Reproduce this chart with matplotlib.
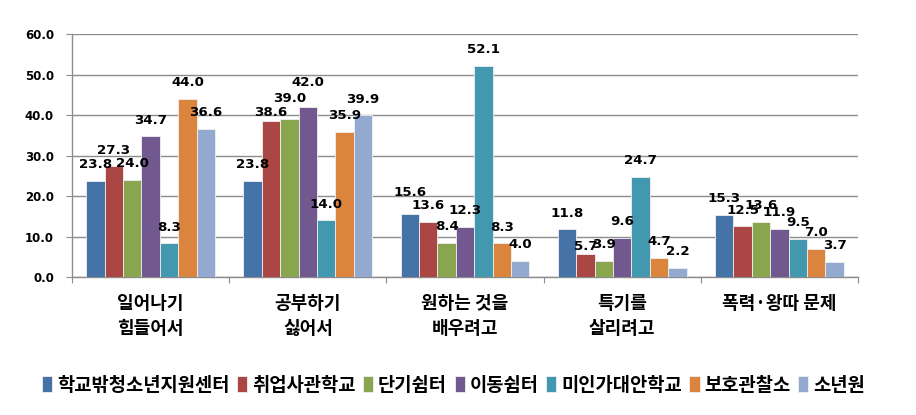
import numpy as np
import matplotlib.pyplot as plt

plt.rcParams['font.family'] = ['Noto Sans CJK KR', 'DejaVu Sans']

categories = ['일어나기\n힘들어서', '공부하기\n싫어서', '원하는 것을\n배우려고', '특기를\n살리려고', '폭력·왕따 문제']
series_names = ['학교밖청소년지원센터', '취업사관학교', '단기쉼터', '이동쉼터', '미인가대안학교', '보호관찰소', '소년원']

center = [23.8, 23.8, 15.6, 11.8, 15.3]
job_school = [27.3, 38.6, 13.6, 5.7, 12.5]
short_shelter = [24.0, 39.0, 8.4, 3.9, 13.6]
mobile_shelter = [34.7, 42.0, 12.3, 9.6, 11.9]
alt_school = [8.3, 14.0, 52.1, 24.7, 9.5]
probation = [44.0, 35.9, 8.3, 4.7, 7.0]
juvenile = [36.6, 39.9, 4.0, 2.2, 3.7]

series = [center, job_school, short_shelter, mobile_shelter, alt_school, probation, juvenile]
colors = ['#4572A7', '#AA4643', '#89A54E', '#71588F', '#4198AF', '#DB843D', '#93A9CF']

# 라벨 간격(pt) - 엑셀에서 겹치지 않게 옮겨진 라벨만 따로
label_gap = {(1, 1): 1.5, (2, 1): 10, (3, 1): 13, (0, 2): 10.5, (1, 3): 0.5}

fig = plt.figure(figsize=(9.16, 4.15), dpi=100)
ax = fig.add_axes([0.0786, 0.3325, 0.8581, 0.5855])

x = np.arange(len(categories))
width = 0.117
for i, (vals, name, c) in enumerate(zip(series, series_names, colors)):
    pos = x + (i - 3) * width
    ax.bar(pos, vals, width, color=c, label=name, edgecolor='#f0f0f0', linewidth=0.6, zorder=3)
    for j, (px, v) in enumerate(zip(pos, vals)):
        ax.annotate(f'{v:.1f}', (px, v), xytext=(0, label_gap.get((i, j), 7)),
                    textcoords='offset points', ha='center', va='bottom',
                    fontsize=9.6, fontweight='bold', family='DejaVu Sans', zorder=4)

ax.set_xlim(-0.5, len(categories) - 0.5)
ax.set_ylim(0, 60)
ax.set_yticks(np.arange(0, 61, 10))
ax.set_yticklabels([f'{t:.1f}' for t in np.arange(0, 61, 10)], fontsize=8.5,
                   fontweight='bold', family='DejaVu Sans')
ax.yaxis.grid(True, color='#8c8c8c', linewidth=1.0, zorder=0)
ax.set_axisbelow(True)

ax.set_xticks(np.arange(-0.5, len(categories), 1))
ax.set_xticklabels([])
ax.set_xticks(x, minor=True)
ax.set_xticklabels(categories, minor=True, fontsize=13, fontweight='bold', linespacing=1.45)
ax.tick_params(axis='x', which='minor', length=0, pad=12)
ax.tick_params(axis='x', which='major', length=4, color='#8c8c8c')
ax.tick_params(axis='y', length=4, color='#8c8c8c', pad=9)

for s in ['top', 'right']:
    ax.spines[s].set_visible(False)
for s in ['left', 'bottom']:
    ax.spines[s].set_color('#8c8c8c')
    ax.spines[s].set_linewidth(1.0)

fig.legend(loc='center', bbox_to_anchor=(0.495, 0.072), ncol=7, frameon=False,
           handlelength=0.55, handleheight=0.9, handletextpad=0.25,
           columnspacing=0.4, prop={'weight': 'bold', 'size': 13.5})

fig.savefig('out.png', dpi=100)
